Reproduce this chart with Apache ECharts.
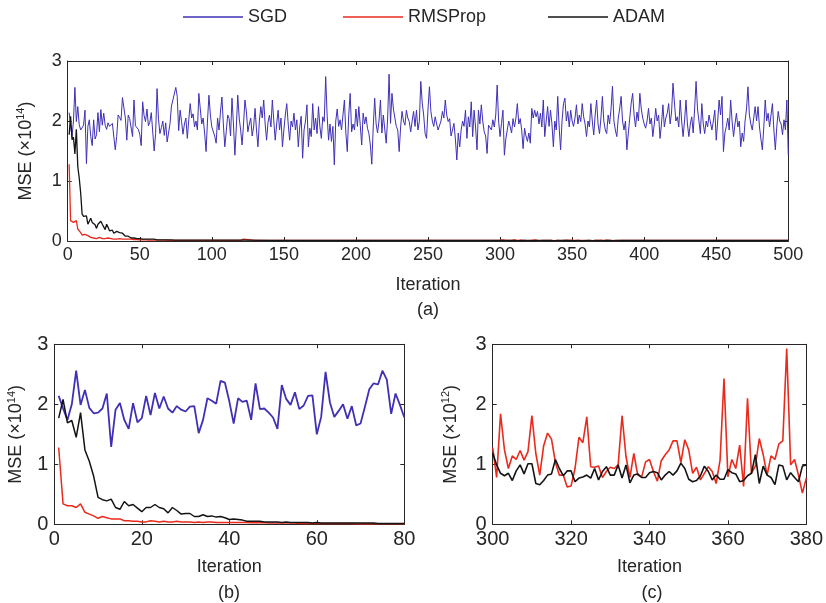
<!DOCTYPE html>
<html><head><meta charset="utf-8">
<script src="https://cdn.jsdelivr.net/npm/echarts@6/dist/echarts.min.js"></script>
<style>html,body{margin:0;padding:0;background:#fff}#c{width:826px;height:603px}</style>
</head><body><div id="c"></div>
<script>
// ---- Data (MSE values; panels a,b in units of 1e14, panel c in units of 1e12) ----
const sgd = [
2.14,1.93,1.74,2.00,2.56,1.99,2.24,1.94,1.85,1.86,
1.93,2.18,1.29,1.91,2.02,1.74,1.59,2.02,1.70,1.77,
2.14,1.82,2.19,1.93,2.13,1.93,1.86,1.97,1.91,1.88,
1.96,1.97,1.52,1.74,2.10,2.06,2.01,2.39,2.36,2.05,
1.68,2.10,2.04,2.06,1.74,2.35,1.92,1.93,1.86,1.78,
1.59,2.32,2.09,1.99,2.20,1.92,1.98,2.14,2.15,1.50,
1.79,2.54,2.03,1.79,1.89,2.00,1.76,1.97,1.65,1.68,
1.96,2.25,2.35,2.33,2.56,2.41,1.84,2.18,1.99,1.78,
1.95,2.05,1.71,2.02,2.29,2.05,2.12,1.90,2.00,1.85,
2.46,2.20,1.95,2.05,1.80,1.49,2.00,2.43,2.10,1.90,
1.92,1.75,1.63,2.05,1.85,2.15,2.40,1.95,1.57,1.82,
2.10,2.04,1.75,2.38,1.95,1.43,1.90,2.43,2.05,1.85,
1.60,1.95,2.35,2.15,1.82,1.95,2.05,1.75,1.90,2.21,
1.85,1.57,2.00,2.24,2.05,2.35,1.95,1.68,1.98,2.10,
1.90,2.35,2.00,1.68,1.95,2.18,1.85,2.05,1.57,1.85,
2.10,2.29,1.95,1.68,2.00,1.90,2.13,1.85,2.02,1.57,
1.90,2.08,1.38,1.85,2.00,2.27,1.57,1.88,1.74,2.29,
1.85,2.05,1.79,2.24,1.90,1.71,2.07,1.99,2.74,2.10,
1.68,1.95,1.66,1.91,1.27,2.00,2.20,1.91,2.02,1.85,
1.85,2.35,1.80,1.49,2.10,2.46,1.82,1.95,1.85,2.20,
1.91,2.24,1.93,1.60,2.13,1.95,2.07,1.88,1.79,1.60,
1.28,1.90,2.38,1.95,1.80,2.00,2.35,1.80,2.10,2.10,
1.63,2.05,2.78,1.96,2.46,2.20,2.18,1.91,1.85,1.49,
1.90,2.16,2.00,1.93,2.18,2.05,1.99,1.82,2.00,2.16,
1.91,2.18,1.85,1.99,2.66,2.30,2.10,1.79,1.71,2.20,
2.57,2.16,2.00,1.91,2.07,1.95,1.85,1.85,2.00,2.16,
2.05,2.35,2.10,1.99,2.04,1.75,1.85,1.96,1.70,1.35,
1.80,1.57,1.85,2.00,1.91,2.18,1.71,2.07,1.90,2.32,
1.74,2.18,1.90,1.52,2.18,1.95,2.27,2.00,1.82,1.75,
1.46,1.93,1.96,1.85,2.02,1.90,2.10,2.60,2.00,1.74,
1.96,2.18,1.43,1.70,1.85,2.00,1.91,1.80,2.04,1.90,
2.05,2.29,1.95,2.04,1.85,1.54,1.88,1.75,1.66,1.80,
1.63,2.21,2.05,2.18,2.07,2.16,1.95,2.13,1.90,2.35,
1.74,2.00,2.24,1.91,2.18,1.95,1.57,2.00,1.85,2.41,
1.90,1.52,2.00,2.29,2.38,2.00,2.16,1.90,2.18,2.00,
1.91,2.05,2.27,1.95,2.10,1.99,2.29,2.07,1.95,1.74,
2.00,1.90,2.29,2.00,1.77,2.10,2.35,1.95,1.79,2.05,
2.41,2.00,1.85,1.79,2.10,1.95,2.20,2.58,2.00,1.85,
1.74,2.05,2.20,2.41,2.00,1.85,2.00,1.52,1.80,2.05,
2.30,2.46,2.10,1.90,2.15,2.00,2.46,2.20,2.05,1.95,
1.88,2.00,2.21,1.95,2.05,1.74,1.95,2.21,2.00,2.10,
1.71,1.95,2.27,1.90,2.05,2.13,2.29,1.95,2.15,2.63,
2.30,2.00,2.07,1.90,2.35,2.00,1.74,2.00,2.35,1.95,
1.74,1.95,2.07,1.80,2.20,2.66,2.20,2.00,1.79,2.29,
1.95,1.79,2.00,1.90,2.10,2.07,1.85,2.00,2.18,1.68,
2.00,2.35,2.10,2.41,1.49,1.80,1.91,2.05,1.85,2.35,
2.00,1.74,1.95,2.13,1.90,2.00,1.57,1.80,1.66,2.00,
2.20,2.57,2.10,1.95,1.85,2.05,2.24,2.00,2.24,1.90,
1.70,1.52,1.90,2.35,2.00,2.13,1.90,2.10,2.29,1.85,
1.52,1.90,2.16,2.00,1.95,1.77,2.02,1.85,2.35,1.43
];
// iterations 1..80 (x1e14)
const rmsEarly = [
1.28,0.34,0.31,0.31,0.28,0.34,0.20,0.17,0.14,0.10,
0.13,0.11,0.09,0.09,0.09,0.06,0.06,0.05,0.05,0.04,
0.04,0.06,0.05,0.04,0.05,0.04,0.04,0.05,0.04,0.04,
0.04,0.03,0.04,0.03,0.04,0.04,0.03,0.03,0.03,0.03,
0.03,0.03,0.03,0.03,0.025,0.025,0.025,0.025,0.02,0.02,
0.02,0.02,0.02,0.02,0.02,0.015,0.015,0.015,0.015,0.015,
0.015,0.015,0.015,0.015,0.015,0.015,0.015,0.015,0.01,0.01,
0.01,0.01,0.01,0.01,0.01,0.01,0.01,0.01,0.01,0.01
];
const adamEarly = [
1.77,2.08,1.69,1.73,1.45,1.86,1.24,1.05,0.80,0.45,
0.41,0.39,0.42,0.28,0.25,0.38,0.31,0.33,0.27,0.21,
0.28,0.28,0.33,0.28,0.26,0.19,0.28,0.23,0.17,0.18,
0.18,0.13,0.13,0.16,0.13,0.14,0.12,0.13,0.11,0.08,
0.09,0.08,0.07,0.05,0.05,0.05,0.05,0.04,0.04,0.04,
0.04,0.03,0.04,0.03,0.03,0.03,0.03,0.03,0.02,0.03,
0.02,0.02,0.02,0.02,0.02,0.02,0.02,0.02,0.02,0.02,
0.02,0.02,0.02,0.015,0.015,0.015,0.015,0.015,0.015,0.015
];
// iterations 300..380 (x1e12)
const rmsZoom = [
1.28,0.78,1.84,1.24,0.93,1.14,1.08,1.23,1.07,1.21,
1.81,1.18,0.82,1.31,1.52,1.42,1.03,0.82,0.82,0.62,
0.64,0.93,1.45,1.36,1.79,0.96,0.95,0.97,0.78,0.88,
0.95,0.93,0.99,1.81,1.13,0.78,1.18,0.82,0.79,1.04,
1.08,0.88,0.72,1.06,1.16,1.24,1.39,1.39,1.03,1.41,
1.24,0.85,0.95,0.74,0.85,0.96,0.88,0.68,1.07,2.43,
0.79,1.08,0.93,1.32,0.63,2.10,0.85,0.97,1.43,1.16,
0.82,1.14,1.08,1.34,1.39,2.93,0.99,1.08,0.82,0.52,
0.77
];
const adamZoom = [
1.19,0.99,0.85,0.81,0.85,0.73,0.89,0.99,0.84,1.01,
1.01,0.68,0.66,0.73,0.82,0.84,1.08,0.93,0.81,0.89,
0.89,0.71,0.77,0.79,0.82,0.77,0.93,0.74,0.88,0.96,
0.82,0.82,0.99,0.77,0.99,0.69,0.82,0.84,0.78,0.78,
0.86,0.88,0.86,0.74,0.82,0.88,0.82,0.89,1.02,0.93,
0.75,0.71,0.73,0.81,0.97,0.88,0.74,0.82,0.75,0.75,
0.91,0.86,0.84,0.71,0.73,0.81,0.85,1.16,0.68,0.97,
0.82,0.78,0.66,0.99,0.97,0.74,0.86,0.78,0.71,0.97,
0.99
];
// sparse readings of the near-zero tails in panel (a) (x1e14)
const rmsTailIter = [85,90,95,100,110,120,121,122,123,130,140,150,160,170,178,179,180,181,190,200,210,220,228,229,230,231,240,250,260,270,280,282,283,284,290,295,
                     385,390,400,410,420,430,440,450,452,453,454,460,470,475,480,482,483,484,490,500];
const rmsTail     = [0.012,0.011,0.011,0.01,0.01,0.01,0.012,0.03,0.012,0.01,0.01,0.01,0.01,0.01,0.01,0.035,0.012,0.01,0.01,0.01,0.01,0.01,0.01,0.03,0.012,0.01,0.01,0.01,0.01,0.01,0.01,0.012,0.03,0.01,0.01,0.01,
                     0.01,0.01,0.01,0.01,0.01,0.01,0.01,0.01,0.012,0.025,0.01,0.01,0.01,0.01,0.01,0.012,0.035,0.01,0.01,0.01];
const adamTailIter = [90,100,120,140,160,180,200,220,240,260,280,295,390,410,430,450,470,490,500];
const adamTail     = [0.015,0.014,0.013,0.012,0.012,0.011,0.011,0.010,0.010,0.010,0.009,0.009,0.008,0.008,0.008,0.008,0.008,0.008,0.008];

const xTicksA = {min:0, max:500, interval:50};
const xTicksB = {min:0, max:80, interval:20};
const xTicksC = {min:300, max:380, interval:20};
const yTicks  = {min:0, max:3, interval:1};

// ---- build ----
const FONT = '"Liberation Sans", Arial, Helvetica, sans-serif';
const AX = '#262626';
const C_SGD = '#3f30b6', C_RMS = '#ea2a1d', C_ADAM = '#141414';

const pairsFrom = (arr, start) => arr.map((v, i) => [start + i, v]);
const sgdPairs = pairsFrom(sgd, 1);
const rmsTop = pairsFrom(rmsEarly, 1)
  .concat(rmsTailIter.filter(x => x < 300).map(x => [x, rmsTail[rmsTailIter.indexOf(x)]]))
  .concat(rmsZoom.map((v, i) => [300 + i, v / 100]))
  .concat(rmsTailIter.filter(x => x > 380).map(x => [x, rmsTail[rmsTailIter.indexOf(x)]]));
const adamTop = pairsFrom(adamEarly, 1)
  .concat(adamTailIter.filter(x => x < 300).map(x => [x, adamTail[adamTailIter.indexOf(x)]]))
  .concat(adamZoom.map((v, i) => [300 + i, v / 100]))
  .concat(adamTailIter.filter(x => x > 380).map(x => [x, adamTail[adamTailIter.indexOf(x)]]));

function xAxes(g, t, fs, gap) {
  const line = {show:true, onZero:false, lineStyle:{color:AX, width:1}};
  const tick = {show:true, inside:true, length:4, lineStyle:{color:AX, width:1}};
  return [
    Object.assign({gridIndex:g, type:'value', position:'bottom', name:'Iteration', nameLocation:'middle', nameGap:gap,
      nameTextStyle:{fontSize:18, color:AX, fontFamily:FONT}, axisLine:line, axisTick:tick,
      axisLabel:{fontSize:fs, color:AX, margin:5, fontFamily:FONT}, splitLine:{show:false}}, t),
    Object.assign({gridIndex:g, type:'value', position:'top', axisLine:line, axisTick:tick,
      axisLabel:{show:false}, splitLine:{show:false}}, t)
  ];
}
function yAxes(g, fs, exp, gap) {
  const line = {show:true, onZero:false, lineStyle:{color:AX, width:1}};
  const tick = {show:true, inside:true, length:4, lineStyle:{color:AX, width:1}};
  return [
    Object.assign({gridIndex:g, type:'value', position:'left', name:'{t|MSE (×10}{s|' + exp + '}{t|)}', nameLocation:'middle', nameGap:gap, nameRotate:90,
      nameTextStyle:{color:AX, fontFamily:FONT, rich:{t:{fontSize:18, color:AX, fontFamily:FONT, lineHeight:20}, s:{fontSize:11, color:AX, fontFamily:FONT, lineHeight:12, verticalAlign:'top'}}},
      axisLine:line, axisTick:tick, axisLabel:{fontSize:fs, color:AX, margin:6, fontFamily:FONT}, splitLine:{show:false}}, yTicks),
    Object.assign({gridIndex:g, type:'value', position:'right', axisLine:line, axisTick:tick,
      axisLabel:{show:false}, splitLine:{show:false}}, yTicks)
  ];
}
function ser(name, data, g, color, w) {
  return {name, type:'line', data, xAxisIndex:2*g, yAxisIndex:2*g, showSymbol:false, symbol:'none',
    lineStyle:{color, width:w}, itemStyle:{color}, animation:false};
}
function legend(name, left) {
  return {data:[name], left, top:3, icon:'rect', itemWidth:60, itemHeight:1.6, itemGap:0,
    textStyle:{fontSize:18, color:AX, fontFamily:FONT}, selectedMode:false};
}

const option = {
  backgroundColor:'#fff',
  animation:false,
  legend:[legend('SGD', 178), legend('RMSProp', 338), legend('ADAM', 543)],
  grid:[
    {left:67.7, top:61, width:720.6, height:180},
    {left:54.3, top:344.3, width:350, height:180},
    {left:492.7, top:344.3, width:318, height:180}
  ],
  xAxis:[].concat(xAxes(0, xTicksA, 18, 35), xAxes(1, xTicksB, 20, 34), xAxes(2, xTicksC, 20, 34)),
  yAxis:[].concat(yAxes(0, 18, '14', 32), yAxes(1, 20, '14', 28), yAxes(2, 20, '12', 32)),
  series:[
    ser('SGD', sgdPairs, 0, C_SGD, 1),
    ser('RMSProp', rmsTop, 0, C_RMS, 1.3),
    ser('ADAM', adamTop, 0, C_ADAM, 1.3),
    ser('SGD', sgdPairs.slice(0, 80), 1, C_SGD, 1.8),
    ser('RMSProp', pairsFrom(rmsEarly, 1), 1, C_RMS, 1.5),
    ser('ADAM', pairsFrom(adamEarly, 1), 1, C_ADAM, 1.5),
    ser('RMSProp', pairsFrom(rmsZoom, 300), 2, C_RMS, 1.6),
    ser('ADAM', pairsFrom(adamZoom, 300), 2, C_ADAM, 1.6)
  ],
  graphic:[
    {type:'text', x:428, y:310, style:{text:'(a)', fontSize:18, fill:AX, font:'18px ' + FONT, textAlign:'center', textVerticalAlign:'middle'}},
    {type:'text', x:229, y:593, style:{text:'(b)', fontSize:18, fill:AX, font:'18px ' + FONT, textAlign:'center', textVerticalAlign:'middle'}},
    {type:'text', x:652, y:593, style:{text:'(c)', fontSize:18, fill:AX, font:'18px ' + FONT, textAlign:'center', textVerticalAlign:'middle'}}
  ]
};
const chart = echarts.init(document.getElementById('c'), null, {renderer:'canvas'});
chart.setOption(option);
</script>
</body></html>
